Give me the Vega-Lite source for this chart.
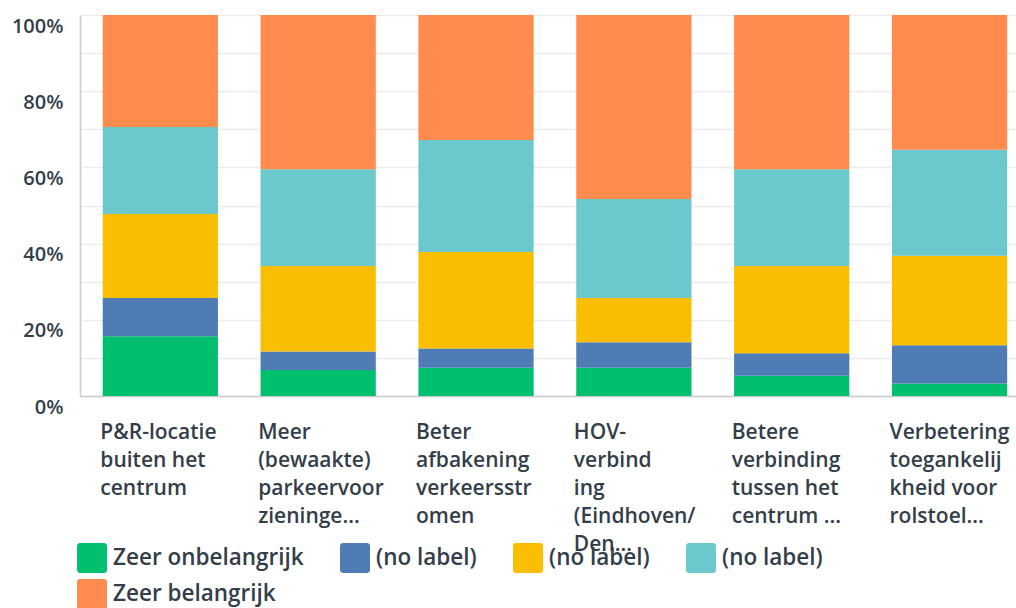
{
  "$schema": "https://vega.github.io/schema/vega-lite/v6.json",
  "width": 936,
  "height": 381,
  "autosize": {"type": "none"},
  "padding": {"left": 80, "top": 15, "right": 0, "bottom": 212},
  "background": "white",
  "config": {
    "font": "Open Sans",
    "view": {"stroke": null},
    "axis": {"labelColor": "#333e48", "labelFontSize": 21, "labelFontWeight": 600, "labelFont": "Open Sans"},
    "legend": {"labelColor": "#333e48", "labelFontSize": 22.5, "labelFontWeight": 600, "labelFont": "Open Sans"}
  },
  "data": {
    "values": [
      {"cat": "P&R-locatie\nbuiten het\ncentrum", "resp": "Zeer onbelangrijk", "idx": 1, "value": 15.7},
      {"cat": "P&R-locatie\nbuiten het\ncentrum", "resp": "(no label)", "idx": 2, "value": 10.0},
      {"cat": "P&R-locatie\nbuiten het\ncentrum", "resp": "(no label)\u200b", "idx": 3, "value": 22.1},
      {"cat": "P&R-locatie\nbuiten het\ncentrum", "resp": "(no label)\u200b\u200b", "idx": 4, "value": 22.8},
      {"cat": "P&R-locatie\nbuiten het\ncentrum", "resp": "Zeer belangrijk", "idx": 5, "value": 29.4},
      {"cat": "Meer\n(bewaakte)\nparkeervoor\nzieninge...", "resp": "Zeer onbelangrijk", "idx": 1, "value": 6.8},
      {"cat": "Meer\n(bewaakte)\nparkeervoor\nzieninge...", "resp": "(no label)", "idx": 2, "value": 4.9},
      {"cat": "Meer\n(bewaakte)\nparkeervoor\nzieninge...", "resp": "(no label)\u200b", "idx": 3, "value": 22.4},
      {"cat": "Meer\n(bewaakte)\nparkeervoor\nzieninge...", "resp": "(no label)\u200b\u200b", "idx": 4, "value": 25.4},
      {"cat": "Meer\n(bewaakte)\nparkeervoor\nzieninge...", "resp": "Zeer belangrijk", "idx": 5, "value": 40.5},
      {"cat": "Beter\nafbakening\nverkeersstr\nomen", "resp": "Zeer onbelangrijk", "idx": 1, "value": 7.4},
      {"cat": "Beter\nafbakening\nverkeersstr\nomen", "resp": "(no label)", "idx": 2, "value": 5.1},
      {"cat": "Beter\nafbakening\nverkeersstr\nomen", "resp": "(no label)\u200b", "idx": 3, "value": 25.3},
      {"cat": "Beter\nafbakening\nverkeersstr\nomen", "resp": "(no label)\u200b\u200b", "idx": 4, "value": 29.4},
      {"cat": "Beter\nafbakening\nverkeersstr\nomen", "resp": "Zeer belangrijk", "idx": 5, "value": 32.8},
      {"cat": "HOV-\nverbind\ning\n(Eindhoven/\nDen...", "resp": "Zeer onbelangrijk", "idx": 1, "value": 7.4},
      {"cat": "HOV-\nverbind\ning\n(Eindhoven/\nDen...", "resp": "(no label)", "idx": 2, "value": 6.7},
      {"cat": "HOV-\nverbind\ning\n(Eindhoven/\nDen...", "resp": "(no label)\u200b", "idx": 3, "value": 11.6},
      {"cat": "HOV-\nverbind\ning\n(Eindhoven/\nDen...", "resp": "(no label)\u200b\u200b", "idx": 4, "value": 26.0},
      {"cat": "HOV-\nverbind\ning\n(Eindhoven/\nDen...", "resp": "Zeer belangrijk", "idx": 5, "value": 48.3},
      {"cat": "Betere\nverbinding\ntussen het\ncentrum ...", "resp": "Zeer onbelangrijk", "idx": 1, "value": 5.3},
      {"cat": "Betere\nverbinding\ntussen het\ncentrum ...", "resp": "(no label)", "idx": 2, "value": 5.9},
      {"cat": "Betere\nverbinding\ntussen het\ncentrum ...", "resp": "(no label)\u200b", "idx": 3, "value": 22.9},
      {"cat": "Betere\nverbinding\ntussen het\ncentrum ...", "resp": "(no label)\u200b\u200b", "idx": 4, "value": 25.4},
      {"cat": "Betere\nverbinding\ntussen het\ncentrum ...", "resp": "Zeer belangrijk", "idx": 5, "value": 40.5},
      {"cat": "Verbetering\ntoegankelij\nkheid voor\nrolstoel...", "resp": "Zeer onbelangrijk", "idx": 1, "value": 3.3},
      {"cat": "Verbetering\ntoegankelij\nkheid voor\nrolstoel...", "resp": "(no label)", "idx": 2, "value": 10.0},
      {"cat": "Verbetering\ntoegankelij\nkheid voor\nrolstoel...", "resp": "(no label)\u200b", "idx": 3, "value": 23.5},
      {"cat": "Verbetering\ntoegankelij\nkheid voor\nrolstoel...", "resp": "(no label)\u200b\u200b", "idx": 4, "value": 27.8},
      {"cat": "Verbetering\ntoegankelij\nkheid voor\nrolstoel...", "resp": "Zeer belangrijk", "idx": 5, "value": 35.4}
    ]
  },
  "mark": {"type": "bar"},
  "encoding": {
    "x": {
      "field": "cat",
      "type": "nominal",
      "sort": null,
      "scale": {"paddingInner": 0.27, "paddingOuter": 0.1, "align": 0.72},
      "axis": {
        "title": null,
        "labelAngle": 0,
        "labelAlign": "left",
        "labelBaseline": "top",
        "labelOffset": -60,
        "labelPadding": 25,
        "labelLineHeight": 28,
        "labelLimit": 0,
        "labelOverlap": false,
        "labelBound": false,
        "labelExpr": "split(datum.label, '\\n')",
        "ticks": false,
        "domainColor": "#cccccc",
        "domainWidth": 1.5,
        "grid": false
      }
    },
    "y": {
      "field": "value",
      "type": "quantitative",
      "stack": "normalize",
      "scale": {"domain": [0, 1], "nice": false},
      "axis": {
        "title": null,
        "values": [0, 0.1, 0.2, 0.3, 0.4, 0.5, 0.6, 0.7, 0.8, 0.9, 1.0],
        "labelExpr": "round(datum.value * 10) % 2 == 0 ? format(datum.value, '.0%') : ''",
        "labelFontSize": 20,
        "ticks": false,
        "labelPadding": 17,
        "labelOffset": 11,
        "domainColor": "#cccccc",
        "domainWidth": 1.5,
        "gridColor": "#ececec",
        "gridWidth": 1.5
      }
    },
    "color": {
      "field": "resp",
      "type": "nominal",
      "scale": {
        "domain": ["Zeer onbelangrijk", "(no label)", "(no label)\u200b", "(no label)\u200b\u200b", "Zeer belangrijk"],
        "range": ["#00bf6f", "#507cb6", "#f9be00", "#6bc8cd", "#ff8b4f"]
      },
      "legend": {
        "title": null,
        "orient": "none",
        "legendX": -3,
        "legendY": 528,
        "direction": "horizontal",
        "columns": 4,
        "symbolType": "M-0.8,-1H0.8A0.2,0.2,0,0,1,1,-0.8V0.8A0.2,0.2,0,0,1,0.8,1H-0.8A0.2,0.2,0,0,1,-1,0.8V-0.8A0.2,0.2,0,0,1,-0.8,-1Z",
        "symbolSize": 900,
        "symbolStrokeWidth": 0,
        "symbolOpacity": 1,
        "labelOffset": 6,
        "columnPadding": 36,
        "rowPadding": 6,
        "labelLimit": 0
      }
    },
    "order": {"field": "idx", "type": "quantitative"}
  }
}
